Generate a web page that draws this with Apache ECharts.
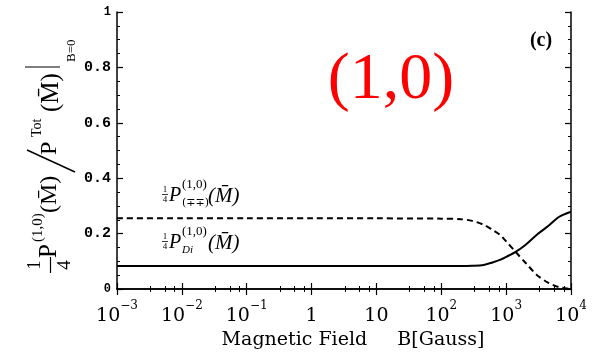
<!DOCTYPE html>
<html>
<head>
<meta charset="utf-8">
<script src="https://cdn.jsdelivr.net/npm/echarts@6/dist/echarts.min.js"></script>
<style>
  html, body { margin: 0; padding: 0; background: #fff; }
  #chart { width: 598px; height: 355px; }
</style>
</head>
<body>
<div id="chart"></div>
<script>
// magnetic field B [Gauss], log scale
const fieldB = [0.001, 0.01, 0.1, 1, 10, 100, 200, 300, 450, 600, 800, 1000, 1400, 2000, 3000, 4500, 6500, 10000];
// 1/4 P(∓∓)(M) — dashed
const pMinusMinus = [0.255, 0.255, 0.255, 0.255, 0.255, 0.254, 0.252, 0.246, 0.232, 0.215, 0.196, 0.172, 0.134, 0.094, 0.05, 0.022, 0.007, 0.0];
// 1/4 P_Di(M) — solid
const pDi = [0.083, 0.083, 0.083, 0.083, 0.083, 0.083, 0.083, 0.084, 0.087, 0.095, 0.105, 0.116, 0.134, 0.16, 0.197, 0.228, 0.26, 0.279];

// decade exponent -> tick label parts
const xTickBase = { '-3': '10', '-2': '10', '-1': '10', '0': '1', '1': '10', '2': '10', '3': '10', '4': '10' };
const xTickSup = { '-3': '−3', '-2': '−2', '-1': '−1', '0': '', '1': '', '2': '2', '3': '3', '4': '4' };

const SERIF = '"Liberation Serif", "DejaVu Serif", serif';
const chart = echarts.init(document.getElementById('chart'));

function pair(xs, ys) {
  return xs.map((x, i) => [x, ys[i]]);
}

// little text helper for the graphic labels
function txt(x, y, text, size, opts) {
  opts = opts || {};
  return {
    type: 'text', x: x, y: y,
    style: {
      text: text,
      font: (opts.style || '') + ' ' + (opts.weight || 'normal') + ' ' + size + 'px ' + (opts.family || SERIF),
      fill: opts.fill || '#000',
      align: opts.align || 'left',
      verticalAlign: 'middle'
    }
  };
}
function seg(x1, y1, x2, y2, w) {
  return { type: 'line', shape: { x1, y1, x2, y2 }, style: { stroke: '#000', lineWidth: w || 1 } };
}

// curve label: 1/4 P^(1,0)_{sub}(M)
function curveLabel(y, sub) {
  const it = { style: 'italic' };
  return [
    txt(165, y - 5, '1', 9, { align: 'center' }),
    seg(162, y - 0.5, 168, y - 0.5, 0.8),
    txt(165, y + 5, '4', 9, { align: 'center' }),
    txt(169, y + 1, 'P', 20, it),
    txt(182, y - 10, '(1,0)', 13),
    txt(182, y + 8, sub, 11, sub === 'Di' ? { style: 'italic' } : { family: '"DejaVu Serif", serif' }),
    txt(208, y + 1, '(M\u0304)', 21, it)
  ];
}

// y axis title, laid out horizontally then turned 90° (reads bottom to top)
const yTitle = {
  type: 'group', x: 50, y: 280, rotation: Math.PI / 2,
  children: [
    txt(15, -15, '1', 19, { align: 'center' }),
    seg(7, 0.5, 23, 0.5, 1.2),
    txt(15, 15, '4', 19, { align: 'center' }),
    txt(22, -1, 'P', 25),
    txt(38, -12, '(1,0)', 15),
    txt(67, 0, '(M\u0304)', 24),
    seg(108, 25, 130, -23, 1.4),
    txt(125, 0, 'P', 24),
    txt(143, -13, 'Tot', 14),
    txt(168, 1, '(M\u0304)', 25),
    seg(213, -25, 213, 10, 1.2),
    txt(218, 22, 'B=0', 13)
  ]
};

const axisCommon = {
  axisLine: { lineStyle: { color: '#000', width: 1.5 } },
  axisTick: { inside: true, length: 6, lineStyle: { color: '#000', width: 1.2 } },
  minorTick: { show: true, splitNumber: 4, length: 3, lineStyle: { color: '#000' } },
  splitLine: { show: false }
};

chart.setOption({
  animation: false,
  grid: { left: 117, right: 27, top: 12, bottom: 66 },
  xAxis: [
    Object.assign({
      type: 'log', logBase: 10, min: 0.001, max: 10000,
      name: 'Magnetic Field     B[Gauss]',
      nameLocation: 'middle', nameGap: 42,
      nameTextStyle: { fontFamily: '"DejaVu Serif", serif', fontSize: 19, color: '#000', padding: [0, 0, 0, 18] },
      axisLabel: {
        margin: 11,
        formatter: function (v) {
          const e = String(Math.round(Math.log10(v)));
          return '{b|' + xTickBase[e] + '}' + (xTickSup[e] ? '{s|' + xTickSup[e] + '}' : '');
        },
        rich: {
          b: { fontFamily: '"DejaVu Serif", serif', fontSize: 19, color: '#000', lineHeight: 26, verticalAlign: 'bottom' },
          s: { fontFamily: '"DejaVu Serif", serif', fontSize: 12, color: '#000', lineHeight: 14, verticalAlign: 'top' }
        }
      }
    }, axisCommon),
    Object.assign({
      type: 'log', logBase: 10, min: 0.001, max: 10000, position: 'top',
      axisLabel: { show: false }
    }, axisCommon)
  ],
  yAxis: [
    Object.assign({
      type: 'value', min: 0, max: 1, interval: 0.2,
      axisLabel: {
        margin: 6,
        formatter: function (v) {
          return (v === 0 || v === 1) ? '{s|' + v + '}' : '{m|' + v.toFixed(1) + '}';
        },
        rich: {
          m: { fontFamily: '"Liberation Mono", monospace', fontWeight: 'bold', fontSize: 15, color: '#000' },
          s: { fontFamily: '"Liberation Mono", monospace', fontWeight: 'bold', fontSize: 12, color: '#000' }
        }
      }
    }, axisCommon),
    Object.assign({
      type: 'value', min: 0, max: 1, interval: 0.2, position: 'right',
      axisLabel: { show: false }
    }, axisCommon)
  ],
  series: [
    {
      type: 'line', data: pair(fieldB, pMinusMinus), smooth: 0.3, showSymbol: false,
      lineStyle: { color: '#000', width: 2, type: [6, 4] }
    },
    {
      type: 'line', data: pair(fieldB, pDi), smooth: 0.3, showSymbol: false,
      lineStyle: { color: '#000', width: 2 }
    }
  ],
  graphic: [
    yTitle,
    txt(391, 81, '(1,0)', 66, { fill: '#ff0000', align: 'center' }),
    txt(541, 41, '(c)', 20, { weight: 'bold', align: 'center' })
  ].concat(curveLabel(195, '(\u2213\u2213)'), curveLabel(242, 'Di'))
});
</script>
</body>
</html>
